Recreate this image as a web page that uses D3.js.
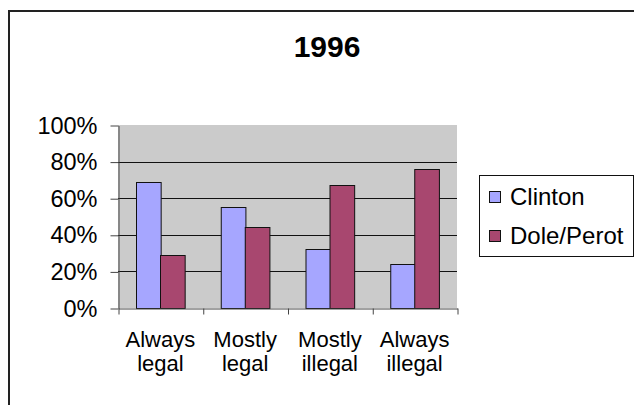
<!DOCTYPE html>
<html>
<head>
<meta charset="utf-8">
<script src="https://cdn.jsdelivr.net/npm/d3@7"></script>
<style>
  body { margin: 0; background: #fff; }
  svg { display: block; font-family: "Liberation Sans", Arial, sans-serif; }
  .axis path, .axis line { stroke: #444; }
</style>
</head>
<body>
<svg id="chart" width="634" height="405"></svg>
<script>
// data
const categories = [["Always", "legal"], ["Mostly", "legal"], ["Mostly", "illegal"], ["Always", "illegal"]];
const series = ["Clinton", "Dole/Perot"];
const clinton = [0.69, 0.55, 0.32, 0.24];
const dolePerot = [0.29, 0.44, 0.67, 0.76];
const yTicks = [0, 0.2, 0.4, 0.6, 0.8, 1];
const colors = ["#a6a6ff", "#a8476f"];

const margin = {top: 125, left: 118, right: 177, bottom: 97};
const width = 634, height = 405;

const svg = d3.select("#chart");

// outer chart border (runs off the right and bottom of the picture)
svg.append("rect")
    .attr("x", 9).attr("y", 11)
    .attr("width", 700).attr("height", 500)
    .attr("fill", "none").attr("stroke", "#222").attr("stroke-width", 2);

svg.append("text")
    .attr("x", 327).attr("y", 57)
    .attr("text-anchor", "middle")
    .style("font-size", "30px").style("font-weight", "bold")
    .text("1996");

const idx = d3.range(categories.length);
const x = d3.scaleBand().domain(idx).range([margin.left, width - margin.right]);
const gap = x.bandwidth() * 0.209;
const xs = d3.scaleBand().domain(series).range([gap, x.bandwidth() - gap]);
const y = d3.scaleLinear().domain([0, 1]).range([height - margin.bottom, margin.top]);

const plot = svg.append("g");
plot.append("rect")
    .attr("x", x.range()[0]).attr("y", y(1))
    .attr("width", x.range()[1] - x.range()[0]).attr("height", y(0) - y(1))
    .attr("fill", "#cbcbcb");

plot.selectAll(".grid").data(yTicks.filter(d => d > 0 && d < 1))
  .enter().append("line")
    .attr("class", "grid")
    .attr("x1", x.range()[0]).attr("x2", x.range()[1])
    .attr("y1", d => Math.round(y(d)) + 0.5).attr("y2", d => Math.round(y(d)) + 0.5)
    .attr("stroke", "#111");

const rows = idx.map(i => ({i: i, vals: [clinton[i], dolePerot[i]]}));
plot.selectAll(".group").data(rows)
  .enter().append("g")
    .attr("transform", d => "translate(" + x(d.i) + ",0)")
  .selectAll("rect").data(d => d.vals.map((v, k) => ({s: series[k], v: v, k: k})))
  .enter().append("rect")
    .attr("x", d => Math.round(xs(d.s)) + 0.5)
    .attr("y", d => Math.round(y(d.v)) + 0.5)
    .attr("width", xs.bandwidth())
    .attr("height", d => y(0) - Math.round(y(d.v)))
    .attr("fill", d => colors[d.k])
    .attr("stroke", "#111");

// y axis
svg.append("g")
    .attr("class", "axis")
    .attr("transform", "translate(" + (margin.left + 0.5) + ",0.5)")
    .call(d3.axisLeft(y).tickValues(yTicks).tickFormat(d3.format(".0%")).tickSize(8).tickPadding(13).tickSizeOuter(0))
    .call(g => g.selectAll("text").style("font-size", "23.5px").attr("fill", "#000"));

// x axis, ticks between categories
const xEdge = d3.scaleLinear().domain([0, categories.length]).range(x.range());
svg.append("g")
    .attr("class", "axis")
    .attr("transform", "translate(0.5," + (y(0) + 0.5) + ")")
    .call(d3.axisBottom(xEdge).ticks(categories.length).tickFormat("").tickSize(6).tickSizeOuter(0));

const labels = svg.append("g").selectAll("text").data(idx)
  .enter().append("text")
    .attr("x", d => x(d) + x.bandwidth() / 2)
    .attr("y", 347)
    .attr("text-anchor", "middle")
    .style("font-size", "22px");
labels.append("tspan").attr("x", d => x(d) + x.bandwidth() / 2).text(d => categories[d][0]);
labels.append("tspan").attr("x", d => x(d) + x.bandwidth() / 2).attr("dy", 24).text(d => categories[d][1]);

// legend
const legend = svg.append("g");
legend.append("rect")
    .attr("x", 479.5).attr("y", 175.5).attr("width", 154).attr("height", 81)
    .attr("fill", "#fff").attr("stroke", "#111");
const ly = d3.scalePoint().domain(series).range([197, 236]);
const item = legend.selectAll(".item").data(series)
  .enter().append("g")
    .attr("transform", d => "translate(0," + ly(d) + ")");
item.append("rect")
    .attr("x", 489.5).attr("y", -5.5).attr("width", 11).attr("height", 11)
    .attr("fill", (d, k) => colors[k]).attr("stroke", "#111");
item.append("text")
    .attr("x", 510).attr("y", 8)
    .style("font-size", "24px")
    .text(d => d);
</script>
</body>
</html>
